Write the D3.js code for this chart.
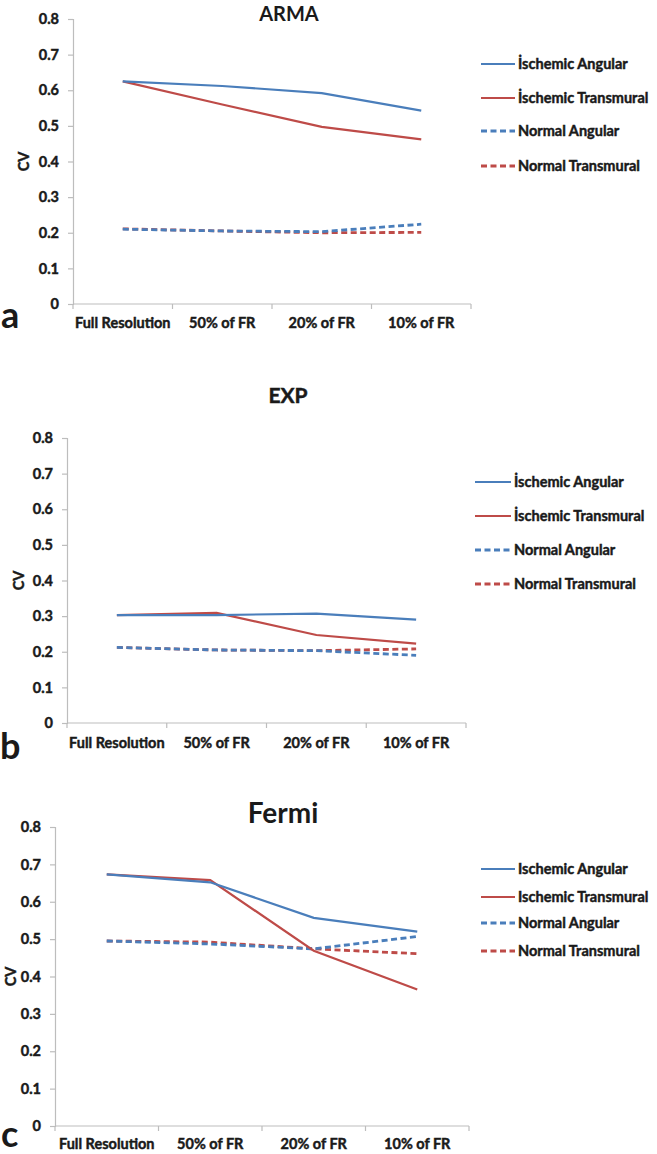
<!DOCTYPE html>
<html>
<head>
<meta charset="utf-8">
<script src="https://cdn.jsdelivr.net/npm/d3@7/dist/d3.min.js"></script>
<style>
  html, body { margin: 0; padding: 0; background: #fff; }
  svg { display: block; }
  text { font-family: Lato, "Open Sans", sans-serif; font-weight: 700; fill: #1a1a1a; }
  text.thick { stroke: #1a1a1a; stroke-width: 0.45px; }
</style>
</head>
<body>
<div id="chart"></div>
<script>
// ---------- DATA ----------
const categories = ["Full Resolution", "50% of FR", "20% of FR", "10% of FR"];
const yTickValues = [0, 0.1, 0.2, 0.3, 0.4, 0.5, 0.6, 0.7, 0.8];
const seriesNames = ["İschemic Angular", "İschemic Transmural", "Normal Angular", "Normal Transmural"];
const legendNamesFermi = ["Ischemic Angular", "Ischemic Transmural", "Normal Angular", "Normal Transmural"];

// Panel a: ARMA
const armaIschemicAngular    = [0.625, 0.612, 0.592, 0.543];
const armaIschemicTransmural = [0.625, 0.560, 0.497, 0.462];
const armaNormalAngular      = [0.210, 0.205, 0.203, 0.224];
const armaNormalTransmural   = [0.211, 0.205, 0.200, 0.201];

// Panel b: EXP
const expIschemicAngular    = [0.303, 0.303, 0.307, 0.290];
const expIschemicTransmural = [0.303, 0.309, 0.247, 0.223];
const expNormalAngular      = [0.212, 0.205, 0.203, 0.190];
const expNormalTransmural   = [0.212, 0.205, 0.203, 0.208];

// Panel c: Fermi
const fermiIschemicAngular    = [0.673, 0.652, 0.557, 0.520];
const fermiIschemicTransmural = [0.673, 0.658, 0.469, 0.365];
const fermiNormalAngular      = [0.495, 0.487, 0.474, 0.507];
const fermiNormalTransmural   = [0.495, 0.492, 0.474, 0.461];

// ---------- STYLE / LAYOUT ----------
const seriesColors = ["#4a7ebb", "#be4b48", "#4a7ebb", "#be4b48"];
const seriesDash = [null, null, "6,3.5", "6,3.5"];
const seriesWidth = [2.2, 2.2, 2.8, 2.8];
const axisColor = "#bdbdbd";

const panels = [
  { title: "ARMA", letter: "a", names: seriesNames,
    series: [armaIschemicAngular, armaIschemicTransmural, armaNormalAngular, armaNormalTransmural],
    x0: 73, x1: 471, yTop: 19, yBot: 304,
    titleX: 289, titleY: 21, titleFont: "Liberation Sans", titleSize: 20, titleThick: false,
    letterX: 1, letterY: 328, cvX: 24,
    legX0: 481, legX1: 515, legRows: [64, 98, 131, 166], xLabY: 328 },
  { title: "EXP", letter: "b", names: seriesNames,
    series: [expIschemicAngular, expIschemicTransmural, expNormalAngular, expNormalTransmural],
    x0: 67, x1: 466, yTop: 438, yBot: 723,
    titleX: 288, titleY: 403, titleFont: "Lato", titleSize: 21, titleThick: true,
    letterX: 0, letterY: 759, cvX: 19,
    legX0: 475, legX1: 511, legRows: [482, 516, 550, 584], xLabY: 748 },
  { title: "Fermi", letter: "c", names: legendNamesFermi,
    series: [fermiIschemicAngular, fermiIschemicTransmural, fermiNormalAngular, fermiNormalTransmural],
    x0: 55, x1: 469, yTop: 827, yBot: 1126,
    titleX: 283, titleY: 823, titleFont: "Liberation Sans", titleSize: 28, titleThick: false,
    letterX: 1, letterY: 1147, cvX: 11,
    legX0: 481, legX1: 515, legRows: [869, 897, 923, 951], xLabY: 1149 }
];

const W = 657, H = 1154;
const svg = d3.select("#chart").append("svg").attr("width", W).attr("height", H);

panels.forEach(p => {
  const g = svg.append("g");
  const x = d3.scaleBand().domain(categories).range([p.x0, p.x1]);
  const y = d3.scaleLinear().domain([0, 0.8]).range([p.yBot, p.yTop]);

  // Y axis
  const yAxis = d3.axisLeft(y).tickValues(yTickValues)
    .tickFormat(d => d === 0 ? "0" : d3.format(".1f")(d))
    .tickSize(5).tickPadding(9);
  const ya = g.append("g").attr("transform", `translate(${p.x0},0)`).call(yAxis);
  ya.select(".domain").attr("stroke", axisColor).attr("stroke-width", 1.2);
  ya.selectAll(".tick line").attr("stroke", axisColor).attr("stroke-width", 1.2);
  ya.selectAll(".tick text").attr("class", "thick").attr("font-size", 14.5).attr("font-family", "Lato")
    .attr("font-weight", 700).attr("fill", "#1a1a1a");

  // X axis: ticks at band boundaries
  const xa = g.append("g").attr("transform", `translate(0,${p.yBot})`);
  xa.append("line").attr("x1", p.x0).attr("x2", p.x1).attr("y1", 0).attr("y2", 0)
    .attr("stroke", axisColor).attr("stroke-width", 1.2);
  const bounds = categories.map(c => x(c)).concat([p.x1]);
  xa.selectAll("line.xt").data(bounds).enter().append("line").attr("class", "xt")
    .attr("x1", d => d).attr("x2", d => d).attr("y1", 0).attr("y2", 5)
    .attr("stroke", axisColor).attr("stroke-width", 1.2);
  g.selectAll("text.xl").data(categories).enter().append("text").attr("class", "xl thick")
    .attr("x", d => x(d) + x.bandwidth() / 2).attr("y", p.xLabY)
    .attr("text-anchor", "middle").attr("font-size", 14.5).text(d => d);

  // Lines
  const line = d3.line().x((d, i) => x(categories[i]) + x.bandwidth() / 2).y(d => y(d));
  [3, 2, 1, 0].forEach(k => {
    g.append("path").datum(p.series[k])
      .attr("d", line).attr("fill", "none")
      .attr("stroke", seriesColors[k]).attr("stroke-width", seriesWidth[k])
      .attr("stroke-dasharray", seriesDash[k]);
  });

  // Title
  g.append("text").attr("class", p.titleThick ? "thick" : null)
    .attr("x", p.titleX).attr("y", p.titleY).attr("text-anchor", "middle")
    .attr("font-family", p.titleFont).attr("font-size", p.titleSize).attr("fill", "#111").text(p.title);

  // Panel letter
  g.append("text").attr("x", p.letterX).attr("y", p.letterY)
    .attr("font-family", "Liberation Sans").attr("font-size", 36).attr("fill", "#000").text(p.letter);

  // CV label
  g.append("text").attr("class", "thick").attr("transform", `translate(${p.cvX + 5},${y(0.4)}) rotate(-90)`)
    .attr("text-anchor", "middle").attr("font-size", 14.5).text("CV");

  // Legend
  p.names.forEach((n, k) => {
    const ly = p.legRows[k];
    g.append("line").attr("x1", p.legX0).attr("x2", p.legX1).attr("y1", ly).attr("y2", ly)
      .attr("stroke", seriesColors[k]).attr("stroke-width", seriesWidth[k])
      .attr("stroke-dasharray", seriesDash[k]);
    g.append("text").attr("class", "thick").attr("x", p.legX1 + 3).attr("y", ly).attr("dy", "0.35em")
      .attr("font-size", 14.5).text(n);
  });
});
</script>
</body>
</html>
